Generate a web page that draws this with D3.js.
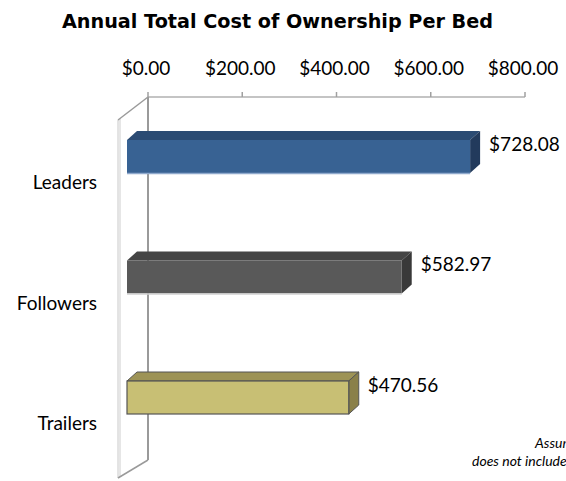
<!DOCTYPE html>
<html>
<head>
<meta charset="utf-8">
<script src="https://cdn.jsdelivr.net/npm/d3@7/dist/d3.min.js"></script>
<style>
  html, body { margin: 0; padding: 0; background: #fff; overflow: hidden; }
  svg { display: block; }
</style>
</head>
<body>
<script>
// Annual total cost of ownership per bed, by hospital group
const categories = ["Leaders", "Followers", "Trailers"];
const costs = [728.08, 582.97, 470.56];
const tickValues = [0, 200, 400, 600, 800];
const tickLabels = ["$0.00", "$200.00", "$400.00", "$600.00", "$800.00"];
const noteLines = ["Assumes", "does not include"];

const W = 566, H = 481;
const svg = d3.select("body").append("svg").attr("width", W).attr("height", H);

const font = "Lato, 'Open Sans', sans-serif";

// value axis on the back plane
const x = d3.scaleLinear().domain([0, 800]).range([148, 525]);
// category centres (front face of each bar)
const y = d3.scalePoint().domain(categories).range([156.5, 397.5]);

const barH = 33;          // front-face height
const depthX = 10, depthY = -9;   // bar extrusion
const frontShift = -21;   // front plane offset from the back plane

const palette = {
  Leaders:   { front: "#386293", top: "#2b4b73", side: "#223a5c", edge: "#8fa9cc", stroke: "none" },
  Followers: { front: "#595959", top: "#454545", side: "#393939", edge: "#cfcfcf", stroke: "none" },
  Trailers:  { front: "#c8bf74", top: "#9d9356", side: "#8a8049", edge: "none", stroke: "#555555" }
};

// Title
svg.append("text")
  .attr("x", 277.5).attr("y", 28)
  .attr("text-anchor", "middle")
  .attr("font-family", "'DejaVu Sans', Verdana, sans-serif")
  .attr("font-weight", "bold")
  .attr("font-size", 19.5)
  .attr("textLength", 431)
  .attr("lengthAdjust", "spacingAndGlyphs")
  .attr("fill", "#000")
  .text("Annual Total Cost of Ownership Per Bed");

// Top axis: line, ticks, labels
const axisY = 97;
const axisG = svg.append("g");
axisG.append("line")
  .attr("x1", x(0)).attr("x2", x(800))
  .attr("y1", axisY).attr("y2", axisY)
  .attr("stroke", "#b0b0b0").attr("stroke-width", 1.5);
axisG.selectAll("line.tick").data(tickValues).enter().append("line")
  .attr("class", "tick")
  .attr("x1", d => x(d)).attr("x2", d => x(d))
  .attr("y1", axisY - 5).attr("y2", axisY)
  .attr("stroke", "#a0a0a0").attr("stroke-width", 1.5);
axisG.selectAll("text").data(tickValues).enter().append("text")
  .attr("x", d => x(d) - 2)
  .attr("y", 75)
  .attr("text-anchor", "middle")
  .attr("font-family", font)
  .attr("font-size", 19)
  .attr("fill", "#000")
  .text((d, i) => tickLabels[i]);

// Left wall (3D side panel) and back wall line
const wallTop = 120, wallBottom = 478, backBottom = 460;
const wall = svg.append("g");
wall.append("line")
  .attr("x1", x(0) - 30).attr("x2", x(0) - 30)
  .attr("y1", wallTop).attr("y2", wallBottom)
  .attr("stroke", "#c8c8c8").attr("stroke-width", 1);
wall.append("line")
  .attr("x1", x(0) - 28).attr("x2", x(0) - 28)
  .attr("y1", wallTop - 1).attr("y2", wallBottom - 1)
  .attr("stroke", "#e6e6e6").attr("stroke-width", 2);
wall.append("line")
  .attr("x1", x(0) - 30).attr("y1", wallTop)
  .attr("x2", x(0)).attr("y2", axisY)
  .attr("stroke", "#9a9a9a").attr("stroke-width", 1.5);
wall.append("line")
  .attr("x1", x(0) - 30).attr("y1", wallBottom)
  .attr("x2", x(0)).attr("y2", backBottom)
  .attr("stroke", "#9a9a9a").attr("stroke-width", 1.5);
wall.append("line")
  .attr("x1", x(0)).attr("x2", x(0))
  .attr("y1", axisY).attr("y2", backBottom)
  .attr("stroke", "#9a9a9a").attr("stroke-width", 2);

// Bars
const rows = categories.map((c, i) => ({ cat: c, value: costs[i] }));
const bars = svg.selectAll("g.bar").data(rows).enter().append("g").attr("class", "bar");

bars.each(function(d) {
  const g = d3.select(this);
  const p = palette[d.cat];
  const x0 = x(0) + frontShift, x1 = x(d.value) + frontShift;
  const y0 = y(d.cat) - barH / 2, y1 = y0 + barH;
  // top face
  g.append("path")
    .attr("d", `M${x0},${y0} L${x0 + depthX},${y0 + depthY} L${x1 + depthX},${y0 + depthY} L${x1},${y0} Z`)
    .attr("fill", p.top).attr("stroke", p.stroke).attr("stroke-width", 1);
  // end face
  g.append("path")
    .attr("d", `M${x1},${y0} L${x1 + depthX},${y0 + depthY} L${x1 + depthX},${y1 + depthY} L${x1},${y1} Z`)
    .attr("fill", p.side).attr("stroke", p.stroke).attr("stroke-width", 1);
  // front face
  g.append("rect")
    .attr("x", x0).attr("y", y0)
    .attr("width", x1 - x0).attr("height", barH)
    .attr("fill", p.front).attr("stroke", p.stroke).attr("stroke-width", 1.2);
  if (p.edge !== "none") {
    g.append("line")
      .attr("x1", x0).attr("x2", x1)
      .attr("y1", y1 + 0.5).attr("y2", y1 + 0.5)
      .attr("stroke", p.edge).attr("stroke-width", 1.5);
  }
  // value label
  g.append("text")
    .attr("x", x1 + depthX + 9)
    .attr("y", y(d.cat) - 6)
    .attr("font-family", font)
    .attr("font-size", 19)
    .attr("fill", "#000")
    .text("$" + d3.format(".2f")(d.value));
});

// Category labels
svg.selectAll("text.cat").data(categories).enter().append("text")
  .attr("class", "cat")
  .attr("x", 97)
  .attr("y", d => y(d) + 32.5)
  .attr("text-anchor", "end")
  .attr("font-family", font)
  .attr("font-size", 19)
  .attr("fill", "#000")
  .text(d => d);

// Footnote
svg.append("text")
  .attr("x", 535).attr("y", 448)
  .attr("font-family", font).attr("font-style", "italic")
  .attr("font-size", 14).attr("fill", "#000")
  .text(noteLines[0]);
svg.append("text")
  .attr("x", 472).attr("y", 466)
  .attr("font-family", font).attr("font-style", "italic")
  .attr("font-size", 14).attr("fill", "#000")
  .text(noteLines[1]);
</script>
</body>
</html>
